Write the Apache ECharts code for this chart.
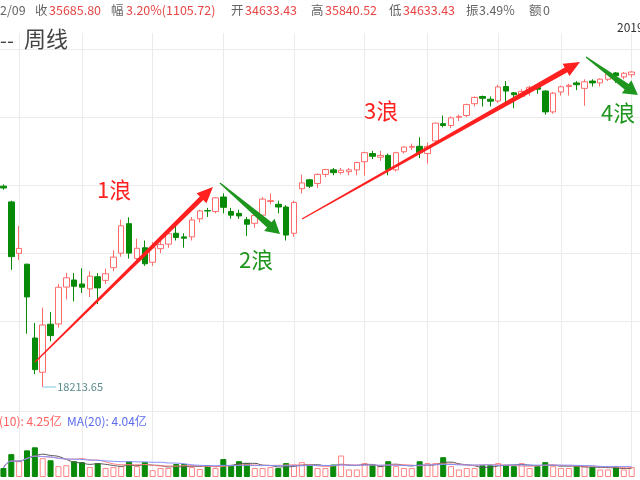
<!DOCTYPE html>
<html><head><meta charset="utf-8">
<script src="https://cdn.jsdelivr.net/npm/echarts@6/dist/echarts.min.js"></script>
<style>html,body{margin:0;padding:0;background:#fff}#c{width:640px;height:480px}</style>
</head><body><div id="c"></div>
<script>
const dates = ['2020-02-21','2020-02-28','2020-03-06','2020-03-13','2020-03-20','2020-03-27','2020-04-03','2020-04-09','2020-04-17','2020-04-24',
'2020-05-01','2020-05-08','2020-05-15','2020-05-22','2020-05-29','2020-06-05','2020-06-12','2020-06-19','2020-06-26','2020-07-02',
'2020-07-10','2020-07-17','2020-07-24','2020-07-31','2020-08-07','2020-08-14','2020-08-21','2020-08-28','2020-09-04','2020-09-11',
'2020-09-18','2020-09-25','2020-10-02','2020-10-09','2020-10-16','2020-10-23','2020-10-30','2020-11-06','2020-11-13','2020-11-20',
'2020-11-27','2020-12-04','2020-12-11','2020-12-18','2020-12-24','2020-12-31','2021-01-08','2021-01-15','2021-01-22','2021-01-29',
'2021-02-05','2021-02-12','2021-02-19','2021-02-26','2021-03-05','2021-03-12','2021-03-19','2021-03-26','2021-04-01','2021-04-09',
'2021-04-16','2021-04-23','2021-04-30','2021-05-07','2021-05-14','2021-05-21','2021-05-28','2021-06-04','2021-06-11','2021-06-18',
'2021-06-25','2021-07-02','2021-07-09','2021-07-16','2021-07-23','2021-07-30','2021-08-06','2021-08-13','2021-08-20','2021-08-27',
'2021-09-03'];
const opens = [29300,28430,25590,24992,20917,19028,21678,21693,23730,24120,
23900,23630,24300,24100,24800,25600,27230,25300,25900,25100,
25850,26100,26700,26500,26500,27500,27950,27900,28700,27900,
27800,27450,27250,27700,28450,28300,28150,26700,29157,29650,
29450,29950,30200,30050,30100,30200,30650,31100,30900,31000,
30200,31200,31450,31500,31100,31800,32750,32650,33100,33200,
33850,34250,34100,34000,34800,34450,34250,34600,34750,34550,
33400,34500,34800,35000,34700,35100,35000,35200,35550,35330,
35450];
const closes = [29200,25409,25864,23185,19174,21636,21052,23719,24242,23775,
23724,24331,23685,24465,25383,27111,25605,25871,25016,25900,
26075,26672,26470,26428,27433,27931,27930,28654,28133,27700,
27657,27200,27682,28586,28500,28150,26600,28400,29479,29300,
29950,30218,30046,30179,30199,30606,31150,30950,30997,30200,
31148,31458,31494,31150,31496,32779,32650,33072,33153,33801,
34200,34150,33990,34778,34550,34350,34529,34756,34650,33400,
34433,34786,34870,34900,35061,35000,35208,35515,35400,35530,
35600];
const lows = [29100,24681,25226,21154,18917,18213.65,20735,21500,23050,22940,
23400,23180,22789,23900,24600,25400,25300,25100,24900,24900,
25600,25900,26300,25900,26300,27300,27600,27800,27800,27500,
27500,26550,27000,27600,28300,27800,26300,26500,28900,29200,
29200,29800,29900,29950,29900,29900,29881,30800,30700,29900,
30100,31100,31300,30850,30547,31700,32550,32500,32900,33100,
33700,33700,33700,33900,33900,33600,34200,34300,34400,33250,
33300,34300,34300,34600,33741,34800,34800,35100,35000,35200,
35300];
const highs = [29400,28500,27102,25020,21750,22595,22350,23900,24510,24500,
24764,24600,24500,24750,25760,27450,27580,26400,26300,26200,
26400,26900,27100,26700,27600,28000,28100,28700,28900,28100,
28000,27600,27800,28700,28900,28500,28250,28500,29933,29700,
30000,30250,30300,30300,30300,30650,31200,31250,31250,31100,
31200,31500,31650,32000,31700,32800,33200,33150,33250,33850,
34250,34300,34250,34900,35100,34500,34650,34850,34850,34600,
34500,34850,34950,35100,35200,35200,35250,35600,35600,35600,
35650];
const volumes = [3.8,9.7,6.7,11.3,12.6,8.0,7.1,4.6,5.0,6.7,
6.3,4.2,5.9,3.8,4.2,4.6,6.7,4.6,6.3,2.9,
3.8,3.8,5.5,5.5,4.2,3.4,5.0,3.8,7.6,5.0,
6.7,5.9,3.8,3.8,4.2,3.8,5.9,5.0,6.3,5.0,
3.8,3.8,5.3,9.1,3.2,3.2,5.9,5.3,4.6,6.7,
4.6,3.8,3.8,6.7,5.9,5.9,8.4,4.6,3.2,3.8,
3.8,5.0,5.0,5.9,5.0,4.6,5.9,3.8,4.6,6.3,
4.6,3.8,3.8,4.6,4.6,4.2,3.2,3.2,4.2,3.2,
4.2];
// weeks where a vertical grid line is drawn (first week of every second month)
const gridWeeks = [2,10,19,28,37,46,54,63,71,80];
// wave arrows: start/end in (week index, index value)
const waveNames = ['1浪','2浪','3浪','4浪'];
const waveStartWeek = [4.02, 27.57, 38.02, 74.18];
const waveStartVal  = [19594, 29475, 27487, 36430];
const waveEndWeek   = [26.68, 35.22, 73.42, 80.8];
const waveEndVal    = [29254, 26659, 36154, 34332];

const FONT = '"Noto Sans CJK SC","Noto Sans",sans-serif';
const RED = '#ff2020', GREEN = '#1e961e';
const UPC = '#ff6b6b', DNC = '#078a07';
const GL = '#ebebeb';
const waveStyle = [
  {color: RED, w1: 1.2, w2: 5, head: 16, hw: 7},
  {color: GREEN, w1: 1.2, w2: 7, head: 14, hw: 8},
  {color: RED, w1: 1.2, w2: 5.5, head: 16, hw: 7},
  {color: GREEN, w1: 1.2, w2: 7, head: 14, hw: 8}
];

const N = dates.length;
const kdata = dates.map((d, i) => [opens[i], closes[i], lows[i], highs[i]]);
const volData = volumes.map((v, i) => {
  const up = closes[i] >= opens[i];
  return {value: v, itemStyle: up ? {color: '#fff', borderColor: '#ff8585', borderWidth: 1} : {color: DNC, borderColor: DNC, borderWidth: 1}};
});
function ma(n) {
  return volumes.map((v, i) => {
    const s = Math.max(0, i - n + 1); let t = 0;
    for (let k = s; k <= i; k++) t += volumes[k];
    return +(t / (i - s + 1)).toFixed(2);
  });
}
const minIdx = lows.indexOf(Math.min(...lows));
const waveData = waveNames.map((n, i) => [waveStartWeek[i], waveStartVal[i], waveEndWeek[i], waveEndVal[i]]);

const chart = echarts.init(document.getElementById('c'), null, {renderer: 'canvas'});
const vsplit = {show: true, interval: (idx) => gridWeeks.indexOf(idx) >= 0, lineStyle: {color: GL, width: 1}};
const gridX = {left: 3.45, width: 628.2};

function txt(x, y, s, color, size, weight) {
  return {type: 'text', x: x, y: y, z: 100, silent: true,
    style: {text: s, fill: color, font: (weight || 'normal') + ' ' + size + 'px ' + FONT, verticalAlign: 'middle', align: 'left'}};
}
const G = '#666', R = '#e84545';
const HS = 12.5;
const graphics = [
  txt(0, 10, '2/09', G, HS), txt(35, 10, '收', G, HS), txt(49, 10, '35685.80', R, HS),
  txt(111, 10, '幅', G, HS), txt(126, 10, '3.20%(1105.72)', R, HS),
  txt(231, 10, '开', G, HS), txt(245, 10, '34633.43', R, HS),
  txt(311, 10, '高', G, HS), txt(325, 10, '35840.52', R, HS),
  txt(389, 10, '低', G, HS), txt(403, 10, '34633.43', R, HS),
  txt(466, 10, '振', G, HS), txt(479, 10, '3.49%', G, HS),
  txt(529, 10, '额', G, HS), txt(543, 10, '0', G, HS),
  txt(0, 40, '--', '#444', 20), txt(24, 39, '周线', '#444', 22),
  txt(617, 27, '2019', '#333', 12),
  txt(-1, 421, '(10): 4.25亿', '#ff6060', 12), txt(67, 421, 'MA(20): 4.04亿', '#5b6cf0', 12),
  txt(97, 190, '1浪', RED, 22), txt(239, 260, '2浪', GREEN, 22),
  txt(364, 111, '3浪', RED, 22), txt(601, 113, '4浪', GREEN, 22)
];

chart.setOption({
  animation: false,
  backgroundColor: '#fff',
  graphic: graphics,
  grid: [
    Object.assign({top: 33, height: 378}, gridX),
    Object.assign({top: 411, height: 66}, gridX),
    {left: 0, right: 0, top: 49, height: 272},
    {left: 0, right: 0, top: 33, height: 378}
  ],
  xAxis: [
    {type: 'category', gridIndex: 0, data: dates, boundaryGap: false, axisLine: {show: false}, axisTick: {show: false}, axisLabel: {show: false}, splitLine: vsplit},
    {type: 'value', gridIndex: 0, min: 0, max: N - 1, show: false},
    {type: 'category', gridIndex: 1, data: dates, boundaryGap: false, axisLine: {show: false}, axisTick: {show: false}, axisLabel: {show: false}, splitLine: vsplit},
    {type: 'value', gridIndex: 2, min: 0, max: 1, show: false},
    {type: 'value', gridIndex: 3, min: 0, max: 1, position: 'top', axisLine: {show: true, lineStyle: {color: GL}}, axisTick: {show: false}, axisLabel: {show: false}, splitLine: {show: false}},
    {type: 'value', gridIndex: 3, min: 0, max: 1, position: 'bottom', axisLine: {show: true, lineStyle: {color: GL}}, axisTick: {show: false}, axisLabel: {show: false}, splitLine: {show: false}}
  ],
  yAxis: [
    {type: 'value', gridIndex: 0, min: 16888.85, max: 37754.45, show: false},
    {type: 'value', gridIndex: 1, min: 0, max: 28, show: false},
    {type: 'value', gridIndex: 2, min: 0, max: 4, interval: 1, axisLine: {show: false}, axisTick: {show: false}, axisLabel: {show: false}, splitLine: {show: true, lineStyle: {color: GL}}},
    {type: 'value', gridIndex: 3, min: 0, max: 1, show: false}
  ],
  series: [
    {
      type: 'candlestick', xAxisIndex: 0, yAxisIndex: 0, data: kdata, barWidth: 6, clip: false,
      itemStyle: {color: '#fff', color0: DNC, borderColor: UPC, borderColor0: DNC, borderWidth: 1},
      markPoint: {
        symbol: 'rect', symbolSize: [13, 1.2], symbolOffset: [7, 0],
        itemStyle: {color: '#8fd0e6'},
        label: {show: true, position: 'right', distance: 1, color: '#5c8c8c', fontSize: 11, fontFamily: FONT, formatter: (p) => String(p.value)},
        data: [{coord: [minIdx, lows[minIdx]], value: lows[minIdx]}]
      }
    },
    {
      type: 'custom', xAxisIndex: 1, yAxisIndex: 0, data: waveData, z: 10, clip: false,
      renderItem: function (params, api) {
        const st = waveStyle[params.dataIndex];
        const p1 = api.coord([api.value(0), api.value(1)]);
        const p2 = api.coord([api.value(2), api.value(3)]);
        const dx = p2[0] - p1[0], dy = p2[1] - p1[1];
        const L = Math.hypot(dx, dy), ux = dx / L, uy = dy / L, nx = -uy, ny = ux;
        const bx = p2[0] - ux * st.head, by = p2[1] - uy * st.head;
        const pts = [
          [p1[0] + nx * st.w1 / 2, p1[1] + ny * st.w1 / 2],
          [bx + nx * st.w2 / 2, by + ny * st.w2 / 2],
          [bx + nx * st.hw, by + ny * st.hw],
          [p2[0], p2[1]],
          [bx - nx * st.hw, by - ny * st.hw],
          [bx - nx * st.w2 / 2, by - ny * st.w2 / 2],
          [p1[0] - nx * st.w1 / 2, p1[1] - ny * st.w1 / 2]
        ];
        return {type: 'polygon', shape: {points: pts}, style: {fill: st.color}};
      }
    },
    {type: 'bar', xAxisIndex: 2, yAxisIndex: 1, data: volData, barWidth: 6},
    {type: 'line', xAxisIndex: 2, yAxisIndex: 1, data: ma(5), smooth: true, symbol: 'none', lineStyle: {color: '#555', width: 1}, z: 5},
    {type: 'line', xAxisIndex: 2, yAxisIndex: 1, data: ma(10), smooth: true, symbol: 'none', lineStyle: {color: '#ff8080', width: 1}, z: 5},
    {type: 'line', xAxisIndex: 2, yAxisIndex: 1, data: ma(20), smooth: true, symbol: 'none', lineStyle: {color: '#8090ff', width: 1}, z: 5}
  ]
});
</script>
</body></html>
